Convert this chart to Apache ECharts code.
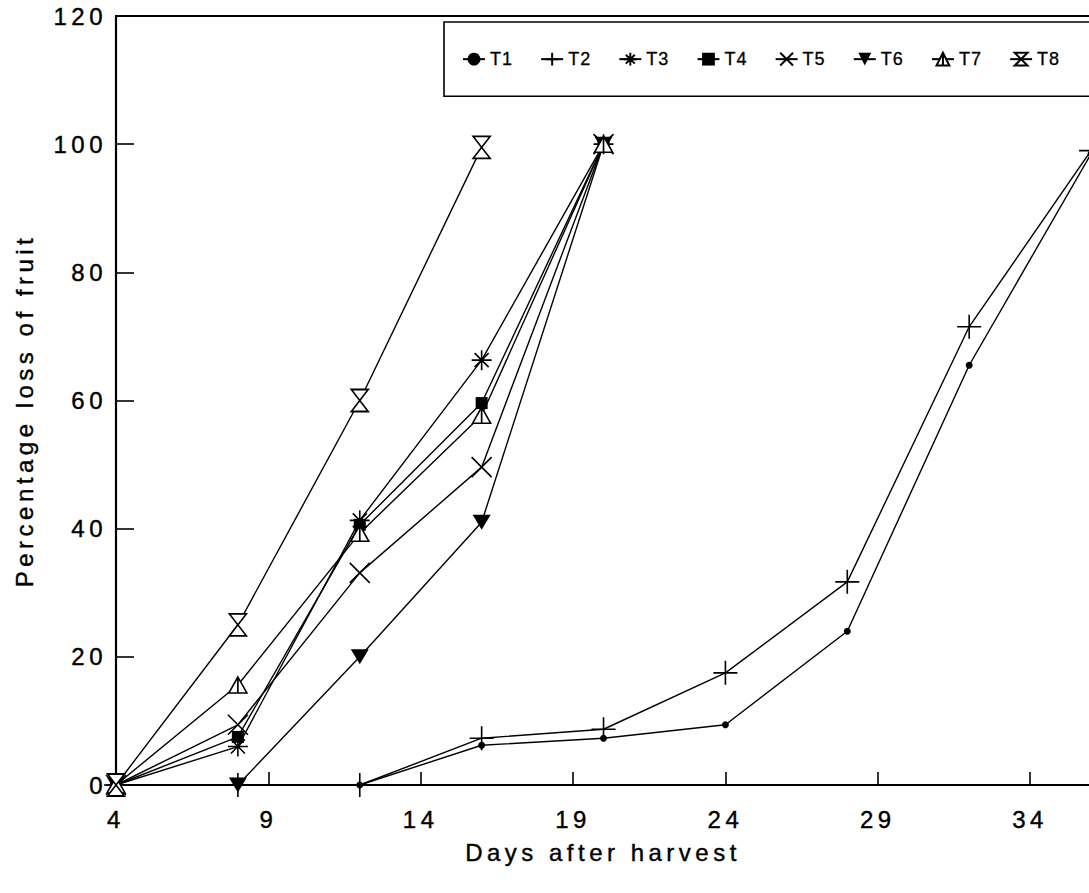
<!DOCTYPE html>
<html>
<head>
<meta charset="utf-8">
<style>
  html, body { margin: 0; padding: 0; background: #fff; }
  #chart { width: 1089px; height: 893px; }
  /* wide tracking of the axis lettering */
  #chart text { letter-spacing: 4.5px; }
  #chart text[style*="18px"] { letter-spacing: 1px; }
</style>
<script src="https://cdn.jsdelivr.net/npm/echarts@6/dist/echarts.min.js"></script>
</head>
<body>
<div id="chart"></div>
<script>
// Sampling days (x positions of the observations)
const days = [4, 8, 12, 16, 20, 24, 28, 32, 36];

// Percentage loss of fruit per treatment
const T1 = [0, 0, 0, 6.2, 7.3, 9.4, 24, 65.5, 98.5];
const T2 = [0, 0, 0, 7.3, 8.7, 17.5, 31.7, 71.5, 99];
const T3 = [0, 6, 41.3, 66.3, 100];
const T4 = [0, 7.5, 40.6, 59.6, 100];
const T5 = [0, 9.4, 33.1, 49.6, 100];
const T6 = [0, 0, 20, 41, 100];
const T7 = [0, 15.6, 39.3, 57.7, 100];
const T8 = [0, 25, 60, 99.5];

const treatmentNames = ['T1', 'T2', 'T3', 'T4', 'T5', 'T6', 'T7', 'T8'];
const treatmentValues = [T1, T2, T3, T4, T5, T6, T7, T8];

// Axis tick labels
const xTickLabels = [4, 9, 14, 19, 24, 29, 34];
const yTickLabels = [0, 20, 40, 60, 80, 100, 120];

// Marker shapes per treatment
const markers = [
  { symbol: 'circle', size: 7, filled: true },
  { symbol: 'path://M0,-12L0,12M-12,0L12,0', size: 24 },
  { symbol: 'path://M0,-10L0,10M-10,0L10,0M-7,-7L7,7M-7,7L7,-7', size: 20 },
  { symbol: 'rect', size: 12, filled: true },
  { symbol: 'path://M-10,-10L10,10M-10,10L10,-10', size: 20 },
  { symbol: 'path://M-9,-7L9,-7L0,8Z', size: [18, 15], filled: true },
  { symbol: 'path://M0,-9L9,7L-9,7ZM0,-9L0,7', size: [18, 16] },
  { symbol: 'path://M-8,-11L8,-11L-8,11L8,11Z', size: [17, 22] }
];

const font = 'Liberation Sans, Arial, sans-serif';
const axisText = {
  fontFamily: font, fontSize: 24, color: '#000',
  textBorderColor: '#000', textBorderWidth: 0.4
};

const series = treatmentNames.map((name, i) => {
  const m = markers[i];
  return {
    name: name,
    type: 'line',
    data: treatmentValues[i].map((v, k) => [days[k], v]),
    symbol: m.symbol,
    symbolSize: m.size,
    showAllSymbol: true,
    clip: false,
    lineStyle: { color: '#000', width: 1.4 },
    itemStyle: m.filled
      ? { color: '#000', borderWidth: 0 }
      : { color: '#fff', borderColor: '#000', borderWidth: 1.6 },
    emphasis: { disabled: true }
  };
});

const chart = echarts.init(document.getElementById('chart'), null, { renderer: 'svg' });
chart.setOption({
  animation: false,
  backgroundColor: '#fff',
  grid: {
    left: 116,
    top: 16,
    width: 1036,
    height: 769,
    show: true,
    borderColor: '#000',
    borderWidth: 2,
    outerBoundsMode: 'none',
    containLabel: false
  },
  legend: {
    data: treatmentNames,
    left: 444,
    top: 22,
    width: 760,
    orient: 'horizontal',
    padding: [28, 60, 28, 18],
    itemWidth: 22,
    itemHeight: 16,
    itemGap: 29,
    borderColor: '#000',
    borderWidth: 1.6,
    textStyle: {
      fontFamily: font, fontSize: 18, color: '#000',
      textBorderColor: '#000', textBorderWidth: 0.3
    }
  },
  xAxis: {
    type: 'value',
    min: xTickLabels[0],
    max: 38,
    interval: xTickLabels[1] - xTickLabels[0],
    name: 'Days after harvest',
    nameLocation: 'middle',
    nameGap: 55,
    nameTextStyle: Object.assign({ padding: [0, 62, 0, 0] }, axisText),
    axisLine: { show: true, lineStyle: { color: '#000', width: 2.2 } },
    axisTick: { show: true, inside: true, length: 13, lineStyle: { color: '#000', width: 1.6 } },
    axisLabel: Object.assign({ margin: 22, showMaxLabel: false }, axisText),
    splitLine: { show: false }
  },
  yAxis: {
    type: 'value',
    min: yTickLabels[0],
    max: yTickLabels[yTickLabels.length - 1],
    interval: yTickLabels[1] - yTickLabels[0],
    name: 'Percentage loss of fruit',
    nameLocation: 'middle',
    nameGap: 80,
    nameRotate: 90,
    nameTextStyle: Object.assign({ padding: [0, 20, 0, 0] }, axisText),
    axisLine: { show: true, lineStyle: { color: '#000', width: 2.2 } },
    axisTick: { show: true, inside: true, length: 18, lineStyle: { color: '#000', width: 1.6 } },
    axisLabel: Object.assign({ margin: 9 }, axisText),
    splitLine: { show: false }
  },
  series: series
});
</script>
</body>
</html>
